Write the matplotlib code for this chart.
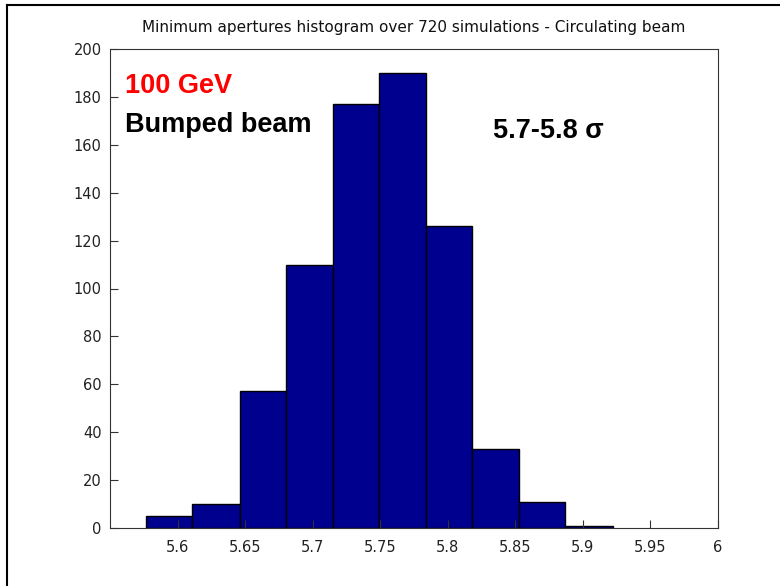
import matplotlib
matplotlib.use('Agg')
import matplotlib.pyplot as plt
import numpy as np

# histogram of minimum apertures, 10 bins, 720 simulations
edges = [5.577, 5.611, 5.646, 5.680, 5.715, 5.749, 5.784, 5.818, 5.853, 5.887, 5.922]
counts = [5, 10, 57, 110, 177, 190, 126, 33, 11, 1]

xticks = [5.6, 5.65, 5.7, 5.75, 5.8, 5.85, 5.9, 5.95, 6]
xtick_labels = ['5.6', '5.65', '5.7', '5.75', '5.8', '5.85', '5.9', '5.95', '6']
yticks = [0, 20, 40, 60, 80, 100, 120, 140, 160, 180, 200]

W, H = 780, 586
fig = plt.figure(figsize=(W / 100, H / 100), dpi=100)
ax = fig.add_axes([110/W, 58/H, 608/W, 479/H])

ax.bar(edges[:-1], counts, width=np.diff(edges), align='edge',
       color='#00008f', edgecolor='black', linewidth=1)

ax.set_xlim(5.55, 6.0)
ax.set_ylim(0, 200)
ax.set_xticks(xticks)
ax.set_xticklabels(xtick_labels)
ax.set_yticks(yticks)
ax.tick_params(direction='in', length=6, color='#333333', labelcolor='#222222',
               labelsize=10.5)
ax.tick_params(axis='x', pad=9)
ax.tick_params(axis='y', pad=6)
for s in ax.spines.values():
    s.set_color('#333333')

ax.set_title('Minimum apertures histogram over 720 simulations - Circulating beam',
             fontsize=11, color='#111111', pad=12)

# annotations, placed in pixel coords (from top-left)
def px_text(x, y, s, **kw):
    fig.text(x / W, 1 - y / H, s, fontsize=19.5, fontweight='bold',
             family='Liberation Sans', va='baseline', **kw)

px_text(125, 93, '100 GeV', color='#ff0000')
px_text(125, 132, 'Bumped beam', color='black')
px_text(493, 138, '5.7-5.8 σ', color='black')

# outer frame lines (top and left only)
fig.add_artist(plt.Line2D([7/W, 1], [1 - 5/H, 1 - 5/H], color='black', lw=1.5))
fig.add_artist(plt.Line2D([7/W, 7/W], [0, 1 - 5/H], color='black', lw=1.5))

fig.savefig('out.png', dpi=100)
